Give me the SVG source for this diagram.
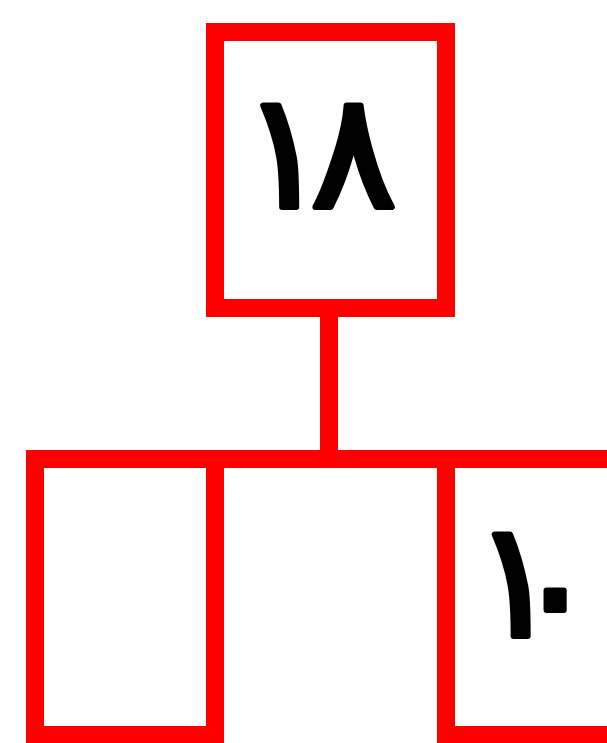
<svg xmlns="http://www.w3.org/2000/svg" width="607" height="743" viewBox="0 0 607 743">
<style>
.box{fill:none;stroke:#ff0000;stroke-width:18}
.lbl{font-family:"DejaVu Sans Mono",monospace;font-size:160px;fill:#000;stroke:#000;stroke-width:6;stroke-linejoin:round;stroke-linecap:round}
</style>
<rect width="607" height="743" fill="#ffffff"/>
<g id="connectors">
<line x1="329" y1="308" x2="329" y2="459" stroke="#ff0000" stroke-width="18"/>
</g>
<g id="node-top">
<rect class="box" x="215" y="32" width="231" height="276"/>
<text class="lbl" x="231.5 305.5" y="207">١٨</text>
</g>
<g id="node-left">
<rect class="box" x="35" y="459" width="180" height="276"/>
</g>
<g id="node-middle">
<path class="box" d="M215 459 H446 M215 459 V760 M446 459 V760"/>
</g>
<g id="node-right">
<path class="box" d="M446 459 H620 M446 735 H620 M446 459 V735"/>
<text class="lbl" x="463 507" y="636 645">١٠</text>
</g>
</svg>
